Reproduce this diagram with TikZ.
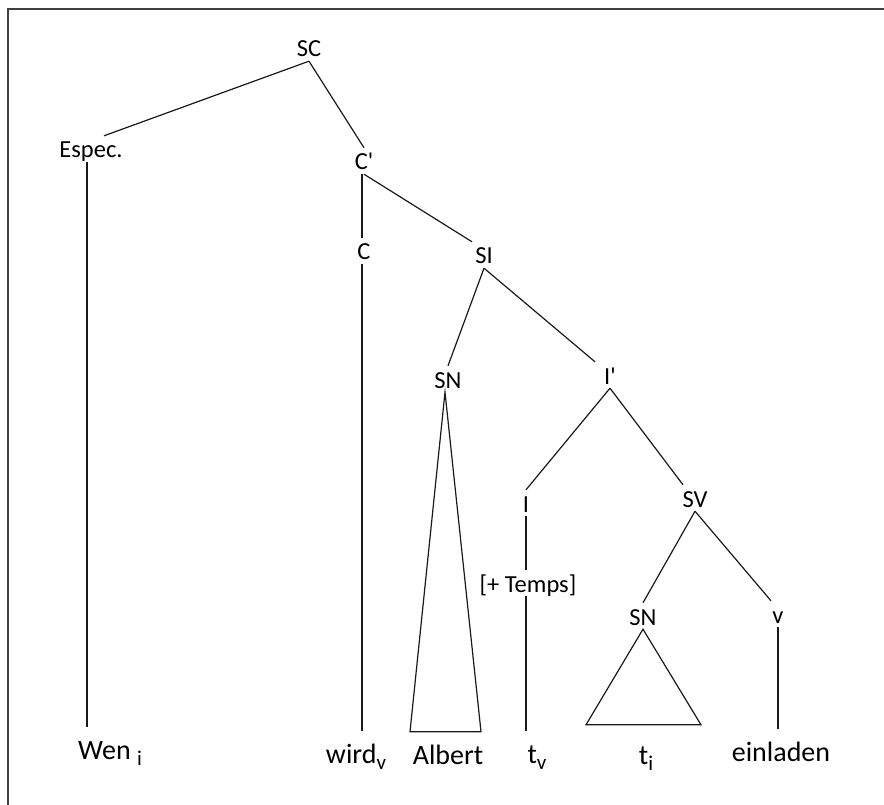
\documentclass[tikz,border=0pt]{standalone}
\usepackage{fontspec}
\setmainfont{Carlito}
\newcommand{\lsub}[1]{\raisebox{-6pt}{\fontsize{21}{22}\selectfont #1}}
\tikzset{
  lab/.style={anchor=base, font=\fontsize{24.5}{28}\selectfont, text height=18pt, text depth=0pt, inner xsep=1pt, inner ysep=4pt},
  leaf/.style={anchor=base, font=\fontsize{28}{32}\selectfont, text height=20pt, text depth=0pt, inner xsep=1pt, inner ysep=12pt},
  edge/.style={line width=1.2pt, black!90, line join=round},
  frame/.style={line width=1.6pt, black!75}
}
\begin{document}
\begin{tikzpicture}[x=1pt,y=-1pt]
\useasboundingbox (0,0) rectangle (884,805);
\draw[frame] (8,805) -- (8,9) -- (884,9);
% internal labels
\node[lab] (SC) at (309,57) {SC};
\node[lab] (Espec) at (91,158) {Espec.};
\node[lab] (Cp) at (364,170) {C\textquotesingle};
\node[lab] (C) at (364,260) {C};
\node[lab] (SI) at (484,264) {SI};
\node[lab] (SNa) at (448,388) {SN};
\node[lab] (Ip) at (610,384) {I\textquotesingle};
\node[lab] (I) at (526,512) {I};
\node[lab] (Temps) at (528,592) {[+ Temps]};
\node[lab] (SV) at (695,507) {SV};
\node[lab] (SNb) at (643,625) {SN};
\node[lab] (V) at (778,623) {v};
% leaves
\node[leaf] (Wen) at (110,759) {Wen \lsub{i}};
\node[leaf] (wird) at (356,763) {wird\lsub{v}};
\node[leaf] (Albert) at (448,764) {Albert};
\node[leaf] (tv) at (537,763) {t\lsub{v}};
\node[leaf] (ti) at (646,764) {t\lsub{i}};
\node[leaf] (einladen) at (781,761) {einladen};
% edges
\draw[edge] (SC.south) -- ([xshift=13pt]Espec.north);
\draw[edge] (SC.south) -- (Cp.north);
\draw[edge] ([xshift=-4pt]Espec.south) -- ([xshift=-4pt]Espec.south |- Wen.north);
\draw[edge] ([xshift=-2pt]Cp.south) -- ([xshift=-2pt]C.north);
\draw[edge] (Cp.south) -- ([xshift=-12pt]SI.north);
\draw[edge] ([xshift=-2pt]C.south) -- ([xshift=-2pt]C.south |- wird.north);
\draw[edge] (SI.south) -- (SNa.north);
\draw[edge] (SI.south) -- ([xshift=-15pt]Ip.north);
\draw[edge] (Ip.south) -- (I.north);
\draw[edge] (Ip.south) -- ([xshift=-12pt]SV.north);
\draw[edge] (I.south) -- (I.south |- Temps.north);
\draw[edge] (Temps.south -| I.south) -- (I.south |- tv.north);
\draw[edge] (SV.south) -- (SNb.north);
\draw[edge] (SV.south) -- ([xshift=-7pt]V.north);
\draw[edge] (V.south) -- (V.south |- einladen.north);
% triangles
\draw[edge, line join=miter] ([xshift=-3pt]SNa.south) -- ([xshift=-38pt]Albert.north) -- ([xshift=33pt]Albert.north) -- cycle;
\draw[edge, line join=miter] (SNb.south) -- ([shift={(-60pt,7pt)}]ti.north) -- ([shift={(55pt,7pt)}]ti.north) -- cycle;
\end{tikzpicture}
\end{document}
